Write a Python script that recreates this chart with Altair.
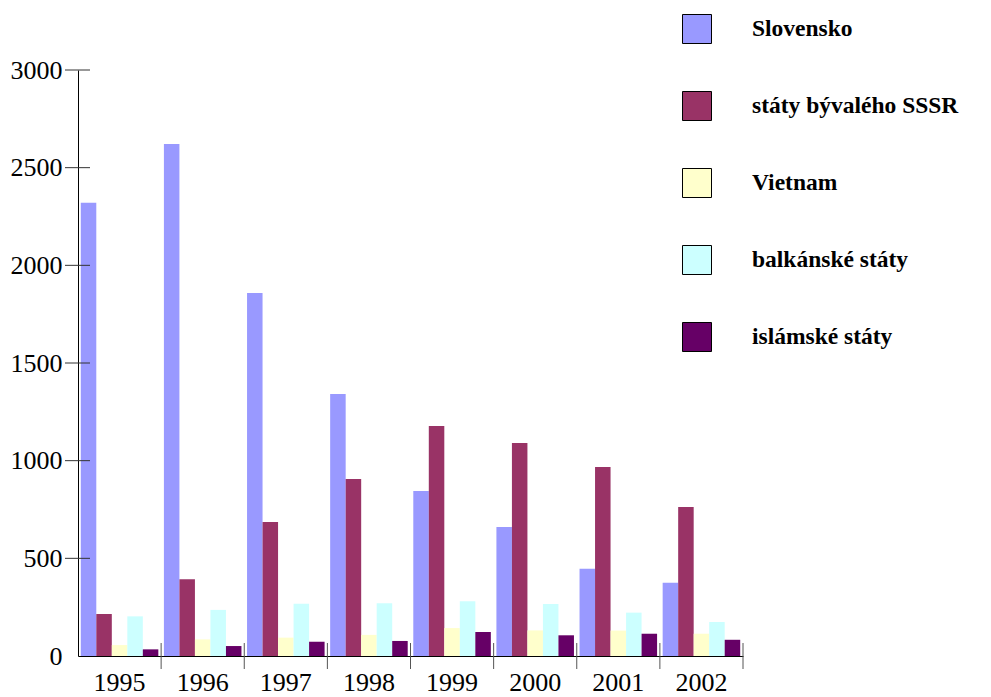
import altair as alt
import pandas as pd

years = ["1995", "1996", "1997", "1998", "1999", "2000", "2001", "2002"]
series = ["Slovensko", "státy bývalého SSSR", "Vietnam", "balkánské státy", "islámské státy"]
colors = ["#9999FF", "#993366", "#FFFFCC", "#CCFFFF", "#660066"]

slovensko = [2320, 2621, 1859, 1341, 845, 660, 447, 375]
sssr = [215, 393, 686, 906, 1178, 1090, 968, 763]
vietnam = [56, 85, 94, 108, 143, 131, 130, 114]
balkan = [203, 236, 268, 270, 280, 266, 222, 174]
islam = [34, 51, 73, 77, 123, 106, 114, 83]

y_ticks = [500, 1000, 1500, 2000, 2500, 3000]

rows = []
for s, vals in zip(series, [slovensko, sssr, vietnam, balkan, islam]):
    for y, v in zip(years, vals):
        rows.append({"year": y, "series": s, "value": v})
df = pd.DataFrame(rows)
df_years = pd.DataFrame({"year": years})
df_ticks = pd.DataFrame({"v": y_ticks})

W, H = 665, 586
FONT = "Times New Roman, Liberation Serif, serif"

bars = alt.Chart(df).mark_bar().encode(
    x=alt.X("year:N", sort=years, title=None,
            scale=alt.Scale(paddingInner=0, paddingOuter=0),
            axis=alt.Axis(ticks=False, tickSize=0, labelPadding=13, labelFontSize=26,
                          labelFont=FONT, labelColor="black", labelAngle=0,
                          domainColor="black", domainWidth=1, grid=False)),
    xOffset=alt.XOffset("series:N", sort=series,
                        scale=alt.Scale(domain=series, paddingOuter=0.18, paddingInner=0)),
    y=alt.Y("value:Q", title=None,
            scale=alt.Scale(domain=[0, 3000], nice=False),
            axis=alt.Axis(values=[0, 500, 1000, 1500, 2000, 2500, 3000], format="d",
                          ticks=False, tickSize=0,
                          labelPadding=16, labelFontSize=26, labelFont=FONT,
                          labelColor="black", domainColor="black", domainWidth=1, grid=False)),
    color=alt.Color("series:N", sort=series,
                    scale=alt.Scale(domain=series, range=colors),
                    legend=alt.Legend(title=None, orient="none", legendX=604, legendY=-56,
                                      symbolType="square", symbolSize=841,
                                      symbolStrokeColor="black", symbolStrokeWidth=1,
                                      symbolOpacity=1, labelFont=FONT, labelFontSize=23.5,
                                      labelFontWeight="bold", labelColor="black",
                                      labelOffset=40, rowPadding=43, padding=0,
                                      labelLimit=400)),
)

xticks = alt.Chart(df_years).mark_rule(color="#555555", strokeWidth=1).encode(
    x=alt.X("year:N", sort=years, bandPosition=1),
    y=alt.value(H - 13),
    y2=alt.value(H + 13),
)

yticks = alt.Chart(df_ticks).mark_rule(color="#333333", strokeWidth=1).encode(
    y=alt.Y("v:Q"),
    x=alt.value(-13),
    x2=alt.value(12),
)

chart = alt.layer(bars, xticks, yticks).properties(
    width=W, height=H,
    autosize="none",
    padding={"left": 70, "top": 62, "right": 240, "bottom": 41},
    background="white",
).configure_view(stroke=None)

chart.save("out.html", embed_options={"renderer": "svg", "actions": False})
